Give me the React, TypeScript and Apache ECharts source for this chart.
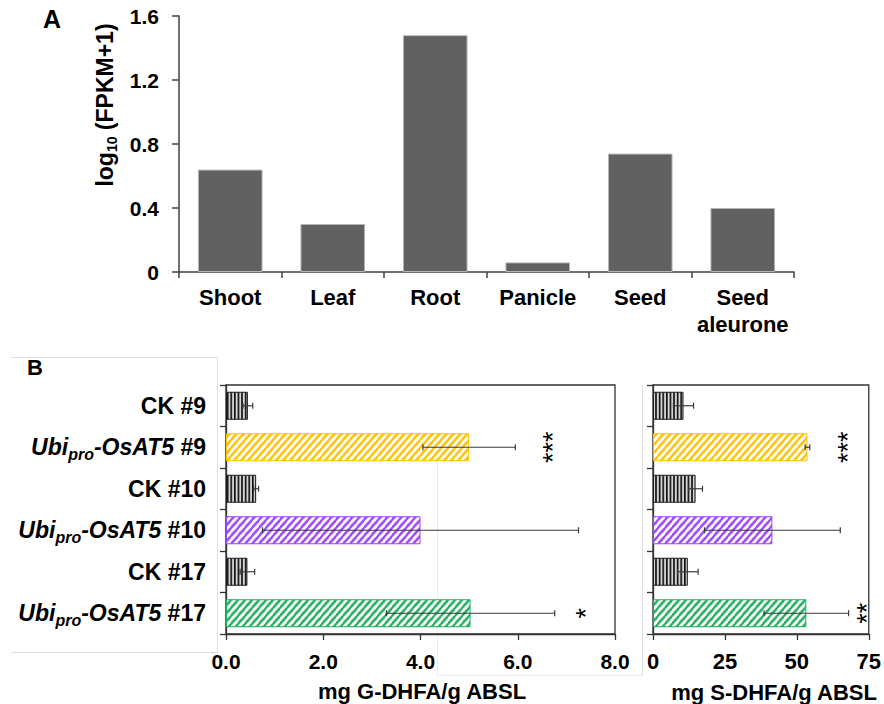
import React, { useEffect, useRef } from 'react';
import * as echarts from 'echarts';

const FONT = '"Liberation Sans", Arial, Helvetica, sans-serif';

// ---------- Panel A data ----------
const tissues = ['Shoot', 'Leaf', 'Root', 'Panicle', 'Seed', 'Seed\naleurone'];
const expression = [0.64, 0.3, 1.48, 0.06, 0.74, 0.4];

// ---------- Panel B data ----------
const lineNames = [
  'CK #9',
  'Ubi-pro-OsAT5 #9',
  'CK #10',
  'Ubi-pro-OsAT5 #10',
  'CK #17',
  'Ubi-pro-OsAT5 #17',
];
const gDhfaMean = [0.45, 5.0, 0.62, 4.0, 0.44, 5.03];
const gDhfaErr = [0.1, 0.95, 0.05, 3.25, 0.15, 1.73];
const sDhfaMean = [10.6, 53.7, 14.8, 41.5, 12.1, 53.3];
const sDhfaErr = [3.5, 0.8, 2.4, 23.6, 3.6, 14.7];

const gStarLines = ['Ubi-pro-OsAT5 #9', 'Ubi-pro-OsAT5 #17'];
const gStarX = [6.6, 7.28];
const gStarText = ['***', '*'];
const sStarLines = ['Ubi-pro-OsAT5 #9', 'Ubi-pro-OsAT5 #17'];
const sStarX = [65.7, 72.3];
const sStarText = ['***', '**'];

const fillKind = ['ck', 'gold', 'ck', 'violet', 'ck', 'green'];
const kindColor: Record<string, string> = {
  ck: '#1a1a1a',
  gold: '#FFC000',
  violet: '#9B42FF',
  green: '#1AAF5D',
};

function makePattern(kind: string): any {
  const S = 10;
  const c = document.createElement('canvas');
  if (kind === 'ck') {
    const w = 3.6;
    const h = 4;
    c.width = Math.round(w * S);
    c.height = Math.round(h * S);
    const ctx = c.getContext('2d')!;
    ctx.fillStyle = '#d4d4d4';
    ctx.fillRect(0, 0, c.width, c.height);
    ctx.fillStyle = '#0d0d0d';
    ctx.fillRect(0, 0, 1.6 * S, c.height);
    return { image: c, repeat: 'repeat', imageWidth: w, imageHeight: h };
  }
  const w = 7;
  const h = 8;
  c.width = w * S;
  c.height = h * S;
  const ctx = c.getContext('2d')!;
  ctx.fillStyle = '#ffffff';
  ctx.fillRect(0, 0, c.width, c.height);
  ctx.strokeStyle = kindColor[kind];
  ctx.lineWidth = 2.4 * S;
  const W = w * S;
  const H = h * S;
  ctx.beginPath();
  ctx.moveTo(-W, H);
  ctx.lineTo(W, -H);
  ctx.moveTo(0, H);
  ctx.lineTo(W, 0);
  ctx.moveTo(0, 2 * H);
  ctx.lineTo(2 * W, 0);
  ctx.stroke();
  return { image: c, repeat: 'repeat', imageWidth: w, imageHeight: h };
}

function labelFormatter(v: string): string {
  if (v.startsWith('CK')) return `{n|${v}}`;
  const num = v.split(' ')[1];
  return `{it|Ubi}{sub|pro}{it|-OsAT5}{n| ${num}}`;
}

const labelRich = {
  n: { fontSize: 23, fontWeight: 'bold', color: '#000', fontFamily: FONT, lineHeight: 30 },
  it: { fontSize: 23, fontWeight: 'bold', fontStyle: 'italic', color: '#000', fontFamily: FONT, lineHeight: 30 },
  sub: { fontSize: 16, fontWeight: 'bold', fontStyle: 'italic', color: '#000', fontFamily: FONT, lineHeight: 15, verticalAlign: 'bottom' },
};

const axisColor = '#333333';

function errorSeries(xi: number, means: number[], errs: number[]) {
  return {
    type: 'custom',
    xAxisIndex: xi,
    yAxisIndex: xi,
    z: 10,
    data: means.map((m, i) => [m - errs[i], m + errs[i], i]),
    encode: { x: [0, 1], y: 2 },
    renderItem: (params: any, api: any) => {
      const lo = api.coord([api.value(0), api.value(2)]);
      const hi = api.coord([api.value(1), api.value(2)]);
      const cap = 3;
      const st = { stroke: '#3a3a3a', lineWidth: 1.2 };
      return {
        type: 'group',
        children: [
          { type: 'line', shape: { x1: lo[0], y1: lo[1], x2: hi[0], y2: hi[1] }, style: st },
          { type: 'line', shape: { x1: lo[0], y1: lo[1] - cap, x2: lo[0], y2: lo[1] + cap }, style: st },
          { type: 'line', shape: { x1: hi[0], y1: hi[1] - cap, x2: hi[0], y2: hi[1] + cap }, style: st },
        ],
      };
    },
  };
}

function starSeries(xi: number, lines: string[], xs: number[], texts: string[]) {
  return {
    type: 'custom',
    xAxisIndex: xi,
    yAxisIndex: xi,
    z: 10,
    data: lines.map((l, i) => [xs[i], lineNames.indexOf(l)]),
    encode: { x: 0, y: 1 },
    renderItem: (params: any, api: any) => {
      const p = api.coord([api.value(0), api.value(1)]);
      const fs = 27;
      return {
        type: 'text',
        x: p[0] + fs * 0.22,
        y: p[1],
        rotation: Math.PI / 2,
        style: {
          text: texts[params.dataIndex],
          fontSize: fs,
          fontWeight: 'normal',
          fontFamily: FONT,
          fill: '#000',
          align: 'center',
          verticalAlign: 'middle',
        },
      };
    },
  };
}

export default function App() {
  const ref = useRef<HTMLDivElement>(null);

  useEffect(() => {
    document.body.style.margin = '0';
    const chart = echarts.init(ref.current!, null, { renderer: 'svg' });

    const barItems = (means: number[]) =>
      means.map((v, i) => ({
        value: v,
        itemStyle: {
          color: makePattern(fillKind[i]),
          borderColor: kindColor[fillKind[i]],
          borderWidth: 1,
        },
      }));

    const valueAxisCommon = {
      splitLine: { show: false },
      axisLine: { show: true, onZero: false, lineStyle: { color: axisColor, width: 1.3 } },
      axisTick: { show: true, length: 6, lineStyle: { color: axisColor, width: 1.3 } },
    };

    const option: any = {
      animation: false,
      backgroundColor: '#ffffff',
      textStyle: { fontFamily: FONT },
      grid: [
        { left: 179, right: 90, top: 16, bottom: 432 },
        { left: 226, right: 269, top: 385, bottom: 70, show: true, borderColor: axisColor, borderWidth: 1.3 },
        { left: 653, right: 15, top: 385, bottom: 70, show: true, borderColor: axisColor, borderWidth: 1.3 },
      ],
      xAxis: [
        {
          gridIndex: 0,
          type: 'category',
          data: tissues,
          axisLine: { lineStyle: { color: '#404040', width: 1.5 } },
          axisTick: { show: true, length: 6, interval: 0, lineStyle: { color: '#404040', width: 1.5 } },
          axisLabel: {
            interval: 0,
            margin: 12,
            fontSize: 22,
            fontWeight: 'bold',
            color: '#000',
            lineHeight: 27,
            fontFamily: FONT,
          },
        },
        {
          gridIndex: 1,
          type: 'value',
          min: 0,
          max: 8,
          interval: 2,
          ...valueAxisCommon,
          axisLabel: {
            formatter: (v: number) => v.toFixed(1),
            margin: 15,
            fontSize: 21,
            fontWeight: 'bold',
            color: '#000',
            lineHeight: 24,
            fontFamily: FONT,
          },
        },
        {
          gridIndex: 2,
          type: 'value',
          min: 0,
          max: 75,
          interval: 25,
          ...valueAxisCommon,
          axisLabel: {
            margin: 15,
            fontSize: 22,
            fontWeight: 'bold',
            color: '#000',
            lineHeight: 24,
            fontFamily: FONT,
          },
        },
      ],
      yAxis: [
        {
          gridIndex: 0,
          type: 'value',
          min: 0,
          max: 1.6,
          interval: 0.4,
          splitLine: { show: false },
          axisLine: { show: true, lineStyle: { color: '#404040', width: 1.5 } },
          axisTick: { show: true, length: 7, lineStyle: { color: '#404040', width: 1.5 } },
          axisLabel: {
            formatter: (v: number) => (v === 0 ? '0' : v.toFixed(1)),
            margin: 20,
            fontSize: 21,
            fontWeight: 'bold',
            color: '#000',
            fontFamily: FONT,
          },
        },
        {
          gridIndex: 1,
          type: 'category',
          data: lineNames,
          inverse: true,
          axisLine: { show: true, lineStyle: { color: axisColor, width: 1.3 } },
          axisTick: { show: true, length: 6, interval: 0, lineStyle: { color: axisColor, width: 1.3 } },
          axisLabel: { interval: 0, margin: 20, formatter: labelFormatter, rich: labelRich },
        },
        {
          gridIndex: 2,
          type: 'category',
          data: lineNames,
          inverse: true,
          axisLine: { show: true, lineStyle: { color: axisColor, width: 1.3 } },
          axisTick: { show: true, length: 6, interval: 0, lineStyle: { color: axisColor, width: 1.3 } },
          axisLabel: { show: false },
        },
      ],
      series: [
        {
          type: 'bar',
          xAxisIndex: 0,
          yAxisIndex: 0,
          data: expression,
          barWidth: '63%',
          itemStyle: { color: '#616161', borderColor: '#b5b5b5', borderWidth: 1 },
        },
        {
          type: 'bar',
          xAxisIndex: 1,
          yAxisIndex: 1,
          data: barItems(gDhfaMean),
          barWidth: 28,
        },
        {
          type: 'bar',
          xAxisIndex: 2,
          yAxisIndex: 2,
          data: barItems(sDhfaMean),
          barWidth: 28,
        },
        errorSeries(1, gDhfaMean, gDhfaErr),
        errorSeries(2, sDhfaMean, sDhfaErr),
        starSeries(1, gStarLines, gStarX, gStarText),
        starSeries(2, sStarLines, sStarX, sStarText),
      ],
      graphic: [
        // faint frame remnants of the composed figure
        { type: 'line', shape: { x1: 11, y1: 357.5, x2: 217.5, y2: 357.5 }, style: { stroke: '#dedede', lineWidth: 1 }, z: -1 },
        { type: 'line', shape: { x1: 217.5, y1: 357.5, x2: 217.5, y2: 652.5 }, style: { stroke: '#dedede', lineWidth: 1 }, z: -1 },
        { type: 'line', shape: { x1: 11, y1: 652.5, x2: 217.5, y2: 652.5 }, style: { stroke: '#dedede', lineWidth: 1 }, z: -1 },
        { type: 'line', shape: { x1: 437.5, y1: 462, x2: 437.5, y2: 675.5 }, style: { stroke: '#ececec', lineWidth: 1 }, z: -1 },
        { type: 'line', shape: { x1: 437.5, y1: 675.5, x2: 642.5, y2: 675.5 }, style: { stroke: '#ececec', lineWidth: 1 }, z: -1 },
        { type: 'line', shape: { x1: 642.5, y1: 385, x2: 642.5, y2: 675.5 }, style: { stroke: '#dedede', lineWidth: 1 }, z: -1 },
        {
          type: 'text',
          x: 52,
          y: 19,
          style: { text: 'A', fontSize: 25, fontWeight: 'bold', fontFamily: FONT, fill: '#000', align: 'center', verticalAlign: 'middle' },
        },
        {
          type: 'text',
          x: 35,
          y: 367,
          style: { text: 'B', fontSize: 22, fontWeight: 'bold', fontFamily: FONT, fill: '#000', align: 'center', verticalAlign: 'middle' },
        },
        {
          type: 'text',
          x: 105,
          y: 105,
          rotation: Math.PI / 2,
          style: {
            text: '{a|log}{s|10}{a| (FPKM+1)}',
            align: 'center',
            verticalAlign: 'middle',
            rich: {
              a: { fontSize: 23, fontWeight: 'bold', fontFamily: FONT, fill: '#000', lineHeight: 28 },
              s: { fontSize: 14, fontWeight: 'bold', fontFamily: FONT, fill: '#000', lineHeight: 13, verticalAlign: 'bottom' },
            },
          },
        },
        {
          type: 'text',
          x: 422,
          y: 691,
          style: { text: 'mg G-DHFA/g ABSL', fontSize: 22, fontWeight: 'bold', fontFamily: FONT, fill: '#000', align: 'center', verticalAlign: 'middle' },
        },
        {
          type: 'text',
          x: 774,
          y: 692,
          style: { text: 'mg S-DHFA/g ABSL', fontSize: 22, fontWeight: 'bold', fontFamily: FONT, fill: '#000', align: 'center', verticalAlign: 'middle' },
        },
      ],
    };

    chart.setOption(option);
    return () => chart.dispose();
  }, []);

  return <div ref={ref} style={{ width: 884, height: 704 }} />;
}
